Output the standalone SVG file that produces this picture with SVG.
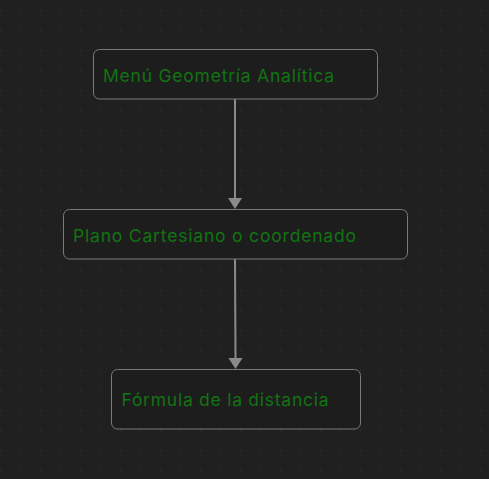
<svg xmlns="http://www.w3.org/2000/svg" width="489" height="479" viewBox="0 0 489 479">
<defs>
<pattern id="dots" x="0" y="0" width="20" height="20" patternUnits="userSpaceOnUse">
<rect x="0" y="10" width="1" height="1" fill="#3a3a3a"/>
</pattern>
<style>
.box{fill:#1d1d1d;stroke:#7a7a7a;stroke-width:1}
.lbl{font-family:Inter,"Liberation Sans",sans-serif;font-size:17.5px;fill:#127312}
.edge{stroke:#8a8a8a;stroke-width:2;fill:none}
.head{fill:#8a8a8a}
</style>
</defs>
<rect width="489" height="479" fill="#202020"/>
<rect width="489" height="479" fill="url(#dots)"/>
<g id="connectors">
<path class="edge" d="M235,99 L235,198"/>
<path class="head" d="M228,198 L242,198 L235,209 Z"/>
<path class="edge" d="M235,259 L235.5,358"/>
<path class="head" d="M228.5,358 L242.5,358 L235.5,369 Z"/>
</g>
<g id="node1">
<rect class="box" x="93.5" y="49.5" width="284" height="49.5" rx="6"/>
<text class="lbl" x="103" y="81.7" textLength="231" lengthAdjust="spacing">Menú Geometría Analítica</text>
</g>
<g id="node2">
<rect class="box" x="63.5" y="209.5" width="344" height="49.5" rx="6"/>
<text class="lbl" x="73" y="241.7" textLength="283" lengthAdjust="spacing">Plano Cartesiano o coordenado</text>
</g>
<g id="node3">
<rect class="box" x="111.5" y="369.5" width="249" height="59.5" rx="6"/>
<text class="lbl" x="121.5" y="405.7" textLength="207" lengthAdjust="spacing">Fórmula de la distancia</text>
</g>
</svg>
